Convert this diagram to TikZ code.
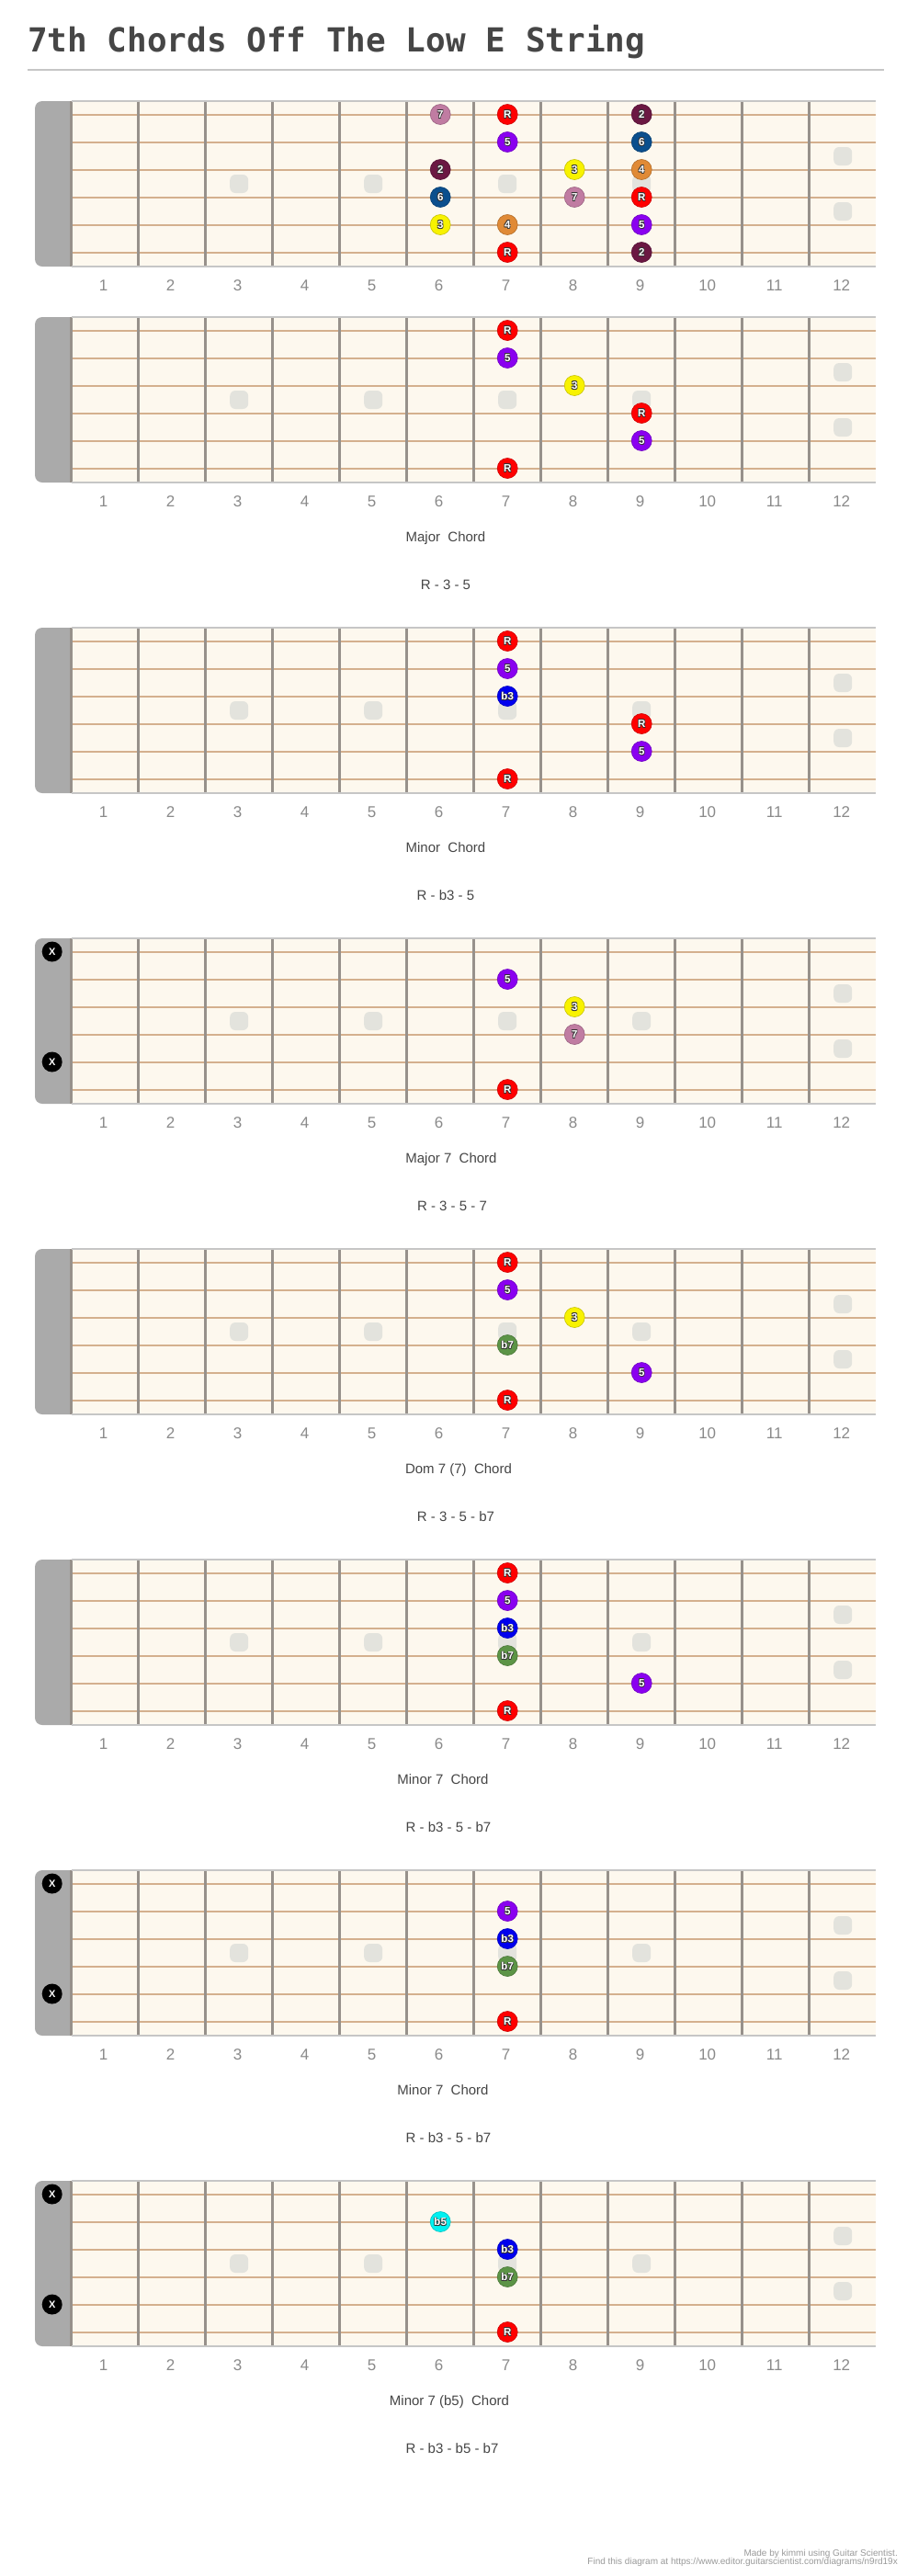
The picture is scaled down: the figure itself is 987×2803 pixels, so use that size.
\documentclass[tikz,border=0pt]{standalone}
\usepackage{fontspec}
\setmainfont{Liberation Sans}
\newfontfamily\titlefont{DejaVu Sans Mono}

\definecolor{boardbg}{HTML}{FDF8EE}
\definecolor{stringtan}{HTML}{D4B08E}
\definecolor{wiregray}{HTML}{97918B}
\definecolor{headgray}{HTML}{AAAAAA}
\definecolor{inlaygray}{HTML}{E3E3DD}
\definecolor{edgegray}{HTML}{C6C6C6}
\definecolor{labelgray}{HTML}{464646}
\definecolor{numgray}{HTML}{8A8A8A}
\definecolor{footgray}{HTML}{9A9A9A}
\definecolor{c-R}{HTML}{FF0000}
\definecolor{c-5}{HTML}{8A00F0}
\definecolor{c-3}{HTML}{F8F200}
\definecolor{c-7}{HTML}{C07CA2}
\definecolor{c-2}{HTML}{6B1843}
\definecolor{c-6}{HTML}{0B4F8D}
\definecolor{c-4}{HTML}{E08A36}
\definecolor{c-b3}{HTML}{0000EE}
\definecolor{c-b7}{HTML}{5C9446}
\definecolor{c-b5}{HTML}{00F0F0}

\tikzset{
fretnote/.style={circle, inner sep=0pt, minimum size=22pt, fill=c-#1, draw=c-#1!80!black, line width=0.6pt},
notelabel/.style={inner sep=0pt, text=white, font=\fontsize{11.5}{12}\selectfont\bfseries},
noteshade/.style={notelabel, text=black!80},
mute/.style={circle, inner sep=0pt, minimum size=22pt, fill=black, text=white, font=\fontsize{11}{12}\selectfont\bfseries},
inlay/.style={fill=inlaygray, rounded corners=6pt},
fretnum/.style={anchor=base, inner sep=0pt, text=numgray, font=\fontsize{17}{18}\selectfont},
chordname/.style={anchor=base, inner sep=0pt, text=labelgray, font=\fontsize{15}{16}\selectfont},
credit/.style={anchor=base east, inner sep=0pt, text=footgray, font=\fontsize{10}{10}\selectfont},
}

% #1 = id, #2 = top edge of the board
\newcommand\fretboard[2]{%
\fill[headgray, rounded corners=8pt] (38,#2) rectangle (90,{#2+180});
\fill[boardbg] (78,#2) rectangle (953,{#2+180});
\foreach \s in {0,...,5}
  \draw[stringtan, line width=2pt] (78,{#2+14.5+30*\s}) -- (953,{#2+14.5+30*\s});
\foreach \k in {0,...,11}
  \draw[wiregray, line width=3.3pt] ({77.7+73*\k},#2) -- ({77.7+73*\k},{#2+180});
\draw[edgegray, line width=1.5pt] (78,#2) -- (953,#2) (78,{#2+180}) -- (953,{#2+180});
\foreach \n in {3,5,7,9}
  \fill[inlay] ({41.2+73*\n-10},{#2+80}) rectangle +(20,20);
\foreach \y in {60,120}
  \fill[inlay] ({41.2+73*12-10},{#2+\y-10}) rectangle +(20,20);
\foreach \n in {1,...,12}
  \node[fretnum] (fn-#1-\n) at ({41.2+73*\n-1.5},{#2+206}) {\n};
}

\begin{document}
\begin{tikzpicture}[x=1pt, y=-1pt]
\useasboundingbox[fill=white] (0,0) rectangle (987,2803);

\node[anchor=base west, inner sep=0pt, text=labelgray, font=\titlefont\bfseries\fontsize{36}{40}\selectfont]
  (title) at (30,56.7) {7th Chords Off The Low E String};
\draw[edgegray, line width=2pt] (30,75.5) -- (962,75.5);

\foreach \i/\T/\nm/\cx/\fm/\fx/\notes in {
1/110/{}/0/{}/0/{1/6/7,1/7/R,1/9/2,2/7/5,2/9/6,3/6/2,3/8/3,3/9/4,4/6/6,4/8/7,4/9/R,5/6/3,5/7/4,5/9/5,6/7/R,6/9/2},
2/345/{Major\ \ Chord}/485/{R - 3 - 5}/485/{1/7/R,2/7/5,3/8/3,4/9/R,5/9/5,6/7/R},
3/683/{Minor\ \ Chord}/485/{R - b3 - 5}/485/{1/7/R,2/7/5,3/7/b3,4/9/R,5/9/5,6/7/R},
4/1021/{Major 7\ \ Chord}/491/{R - 3 - 5 - 7}/492/{2/7/5,3/8/3,4/8/7,6/7/R},
5/1359/{Dom 7 (7)\ \ Chord}/499/{R - 3 - 5 - b7}/496/{1/7/R,2/7/5,3/8/3,4/7/b7,5/9/5,6/7/R},
6/1697/{Minor 7\ \ Chord}/482/{R - b3 - 5 - b7}/488/{1/7/R,2/7/5,3/7/b3,4/7/b7,5/9/5,6/7/R},
7/2035/{Minor 7\ \ Chord}/482/{R - b3 - 5 - b7}/488/{2/7/5,3/7/b3,4/7/b7,6/7/R},
8/2373/{Minor 7 (b5)\ \ Chord}/489/{R - b3 - b5 - b7}/492/{2/6/b5,3/7/b3,4/7/b7,6/7/R}} {
  \fretboard{\i}{\T}
  \foreach \s/\f/\lab in \notes {
    \node[fretnote=\lab] (n-\i-\s-\f) at ({41.2+73*\f},{\T+14.5+30*(\s-1)}) {};
    % dark rim round the white label
    \foreach \dx/\dy [count=\o] in {-0.55/-0.55,0.55/-0.55,-0.55/0.55,0.7/0.7}
      \node[noteshade] (sh-\i-\s-\f-\o) at ([shift={(\dx,\dy)}]n-\i-\s-\f) {\lab};
    \node[notelabel] (lb-\i-\s-\f) at (n-\i-\s-\f) {\lab};
  }
  \ifnum\i>1
    \node[chordname] (name-\i) at (\cx,{\T+244}) {\nm};
    \node[chordname] (form-\i) at (\fx,{\T+296}) {\fm};
  \fi
}

% muted strings
\foreach \T [count=\m] in {1021,2035,2373}
  \foreach \s in {1,5}
    \node[mute] (x-\m-\s) at (56.7,{\T+14.5+30*(\s-1)}) {X};

\node[credit] (credit-a) at (977,2781) {Made by kimmi using Guitar Scientist.};
\node[credit] (credit-b) at (977,2790.7) {Find this diagram at https://www.editor.guitarscientist.com/diagrams/n9rd19x};
\end{tikzpicture}
\end{document}
